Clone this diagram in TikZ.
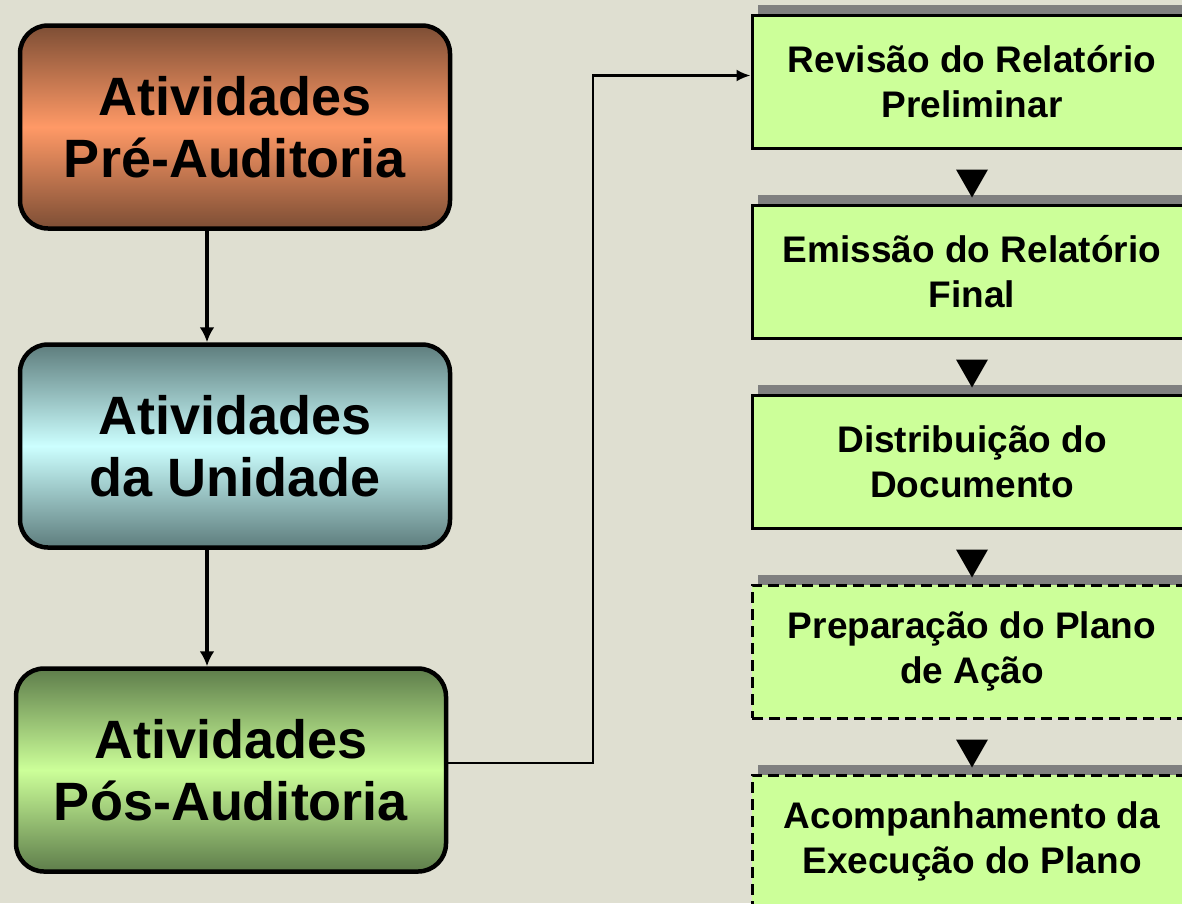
\documentclass[tikz,border=0pt]{standalone}
\usepackage{fontspec}
\setmainfont{Liberation Sans}
\usepackage{tikz}
\usetikzlibrary{arrows.meta, shadows, calc}
\definecolor{paper}{HTML}{DFDFD1}
\definecolor{lime}{HTML}{CCFF99}
\definecolor{rust}{HTML}{7D4E35}
\definecolor{peach}{HTML}{FF9966}
\definecolor{slate}{HTML}{5E7D7D}
\definecolor{ice}{HTML}{CCFFFF}
\definecolor{moss}{HTML}{5E7D4B}
\definecolor{shadegray}{HTML}{808080}

\begin{document}
\begin{tikzpicture}[x=1pt, y=-1pt,
  phase/.style={draw, line width=4.5pt, rounded corners=28pt, minimum width=430pt, minimum height=203pt, align=center, font=\fontsize{54}{62}\selectfont\bfseries},
  task/.style={draw, line width=3pt, fill=lime, minimum width=440pt, minimum height=133pt, align=center, font=\fontsize{37}{45}\selectfont\bfseries, drop shadow={shadow xshift=6pt, shadow yshift=10pt, opacity=1, fill=shadegray}},
  planned/.style={task, dash pattern=on 11pt off 6pt},
  flow/.style={line width=4pt, -{Latex[length=15pt, width=15pt]}},
  link/.style={line width=2.5pt, -{Latex[length=14pt, width=12pt]}}]
  \path[use as bounding box] (0,0) rectangle (1182,903);
  \clip (0,0) rectangle (1182,903);
  \fill[paper] (0,0) rectangle (1182,903);

  % left column
  \node[phase, top color=rust, bottom color=rust, middle color=peach] (pre) at (235,127) {Atividades\\Pré-Auditoria};
  \node[phase, top color=slate, bottom color=slate, middle color=ice] (unid) at (235,446) {Atividades\\da Unidade};
  \node[phase, top color=moss, bottom color=moss, middle color=lime] (post) at (231,770) {Atividades\\Pós-Auditoria};
  \coordinate (axis) at (207,0);
  \draw[flow] (pre.south -| axis) -- (unid.north -| axis);
  \draw[flow] (unid.south -| axis) -- (post.north -| axis);

  % right column
  \node[task] (rev) at (972,81.5) {Revisão do Relatório\\Preliminar};
  \node[task] (emis) at (972,271.5) {Emissão do Relatório\\Final};
  \node[task] (dist) at (972,461.5) {Distribuição do\\Documento};
  \node[planned] (prep) at (972,651.5) {Preparação do Plano\\de Ação};
  \node[planned] (acomp) at (972,841.5) {Acompanhamento da\\Execução do Plano};
  \foreach \a in {rev, emis, dist, prep}
    \fill ($(\a.south)+(-16,20)$) -- ++(32,0) -- ++(-16,28) -- cycle;

  \coordinate (bend) at (593,763);
  \draw[link] ([yshift=7pt]post.east) -- (bend) |- ([yshift=6pt]rev.west);
\end{tikzpicture}
\end{document}
